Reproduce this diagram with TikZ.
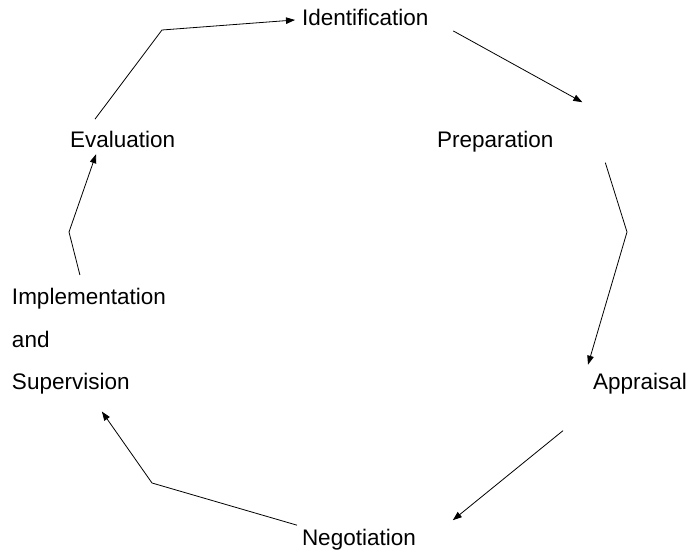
\documentclass[tikz,border=0pt]{standalone}
\usepackage{fontspec}
\setmainfont{Liberation Sans}
\usetikzlibrary{arrows.meta}
\begin{document}
\begin{tikzpicture}[
x=1pt, y=-1pt,
stage/.style={inner sep=0pt, outer sep=0pt, font=\fontsize{22.5}{42.5}\selectfont},
link/.style={draw=black, line width=0.8pt, -{Triangle[length=9pt,width=6.5pt]}},
]
\useasboundingbox (0,0) rectangle (689,553);
\node[stage, anchor=base west] (ident) at (302,26) {Identification};
\node[stage, anchor=base west] (prep) at (437,148) {Preparation};
\node[stage, anchor=base west] (appr) at (593,390) {Appraisal};
\node[stage, anchor=base west] (negot) at (302,546) {Negotiation};
\node[stage, anchor=base west] (evalu) at (70,148) {Evaluation};
\node[stage, anchor=north west, align=left] (impl) at (12,288.6) {Implementation\\and\\Supervision};

\draw[link] ([xshift=-27.5pt,yshift=12.6pt]evalu.north) -- (162,30) -- ([xshift=-7pt,yshift=-2pt]ident.west);
\draw[link] ([xshift=25pt,yshift=-13pt]ident.east) -- ([xshift=29pt,yshift=29.5pt]prep.north east);
\draw[link] ([xshift=52pt,yshift=-10pt]prep.south east) -- (627,232) -- ([xshift=-5pt,yshift=9pt]appr.north west);
\draw[link] ([xshift=-30pt,yshift=-36pt]appr.south west) -- ([xshift=37pt,yshift=20pt]negot.east);
\draw[link] ([xshift=-5pt,yshift=15pt]negot.west) -- (152,483) -- ([xshift=13pt,yshift=-17pt]impl.south);
\draw[link] ([xshift=-9pt,yshift=13.6pt]impl.north) -- (69,232) -- ([xshift=-26.5pt,yshift=-6pt]evalu.south);
\end{tikzpicture}
\end{document}
